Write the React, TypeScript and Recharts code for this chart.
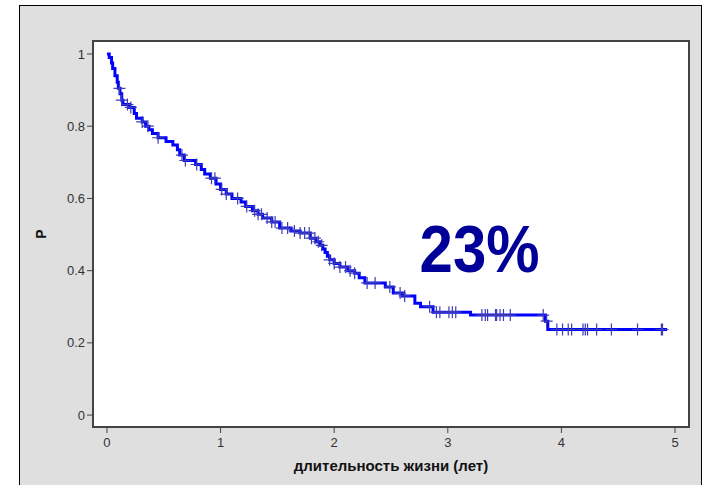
import React from 'react';
import {
  ComposedChart,
  Line,
  Scatter,
  XAxis,
  YAxis,
  CartesianGrid,
  ReferenceArea,
  ReferenceDot,
} from 'recharts';

// Kaplan-Meier step curve: event time (years) and survival after the event
const EVENT_TIMES = [
  0, 0.02, 0.04, 0.05, 0.07, 0.09, 0.1, 0.115, 0.13, 0.14, 0.2, 0.24, 0.26, 0.31, 0.34, 0.37,
  0.4, 0.45, 0.52, 0.58, 0.62, 0.64, 0.68, 0.78, 0.83, 0.86, 0.91, 0.96, 1.0, 1.05, 1.1, 1.18,
  1.22, 1.28, 1.33, 1.37, 1.45, 1.52, 1.62, 1.7, 1.79, 1.84, 1.875, 1.9, 1.92, 1.94, 1.96, 2.0,
  2.05, 2.12, 2.18, 2.22, 2.27, 2.45, 2.52, 2.6, 2.71, 2.76, 2.87, 3.2, 3.86, 3.88, 4.93,
];
const SURVIVAL = [
  1.0, 0.99, 0.975, 0.96, 0.94, 0.922, 0.905, 0.89, 0.872, 0.86, 0.852, 0.835, 0.822, 0.812, 0.8, 0.79,
  0.78, 0.768, 0.758, 0.748, 0.735, 0.72, 0.705, 0.694, 0.68, 0.668, 0.656, 0.64, 0.625, 0.612, 0.6, 0.59,
  0.578, 0.566, 0.556, 0.546, 0.535, 0.518, 0.51, 0.504, 0.49, 0.48, 0.47, 0.46, 0.45, 0.44, 0.43, 0.42,
  0.41, 0.4, 0.393, 0.38, 0.366, 0.355, 0.338, 0.33, 0.31, 0.3, 0.285, 0.277, 0.26, 0.237, 0.237,
];

// censored observations (years)
const CENSOR_TIMES = [
  0.11, 0.13, 0.18, 0.21, 0.31, 0.36, 0.45, 0.66, 0.69, 0.79, 0.92, 0.95, 1.01, 1.05, 1.15, 1.23,
  1.3, 1.33, 1.36, 1.41, 1.45, 1.48, 1.54, 1.59, 1.65, 1.7, 1.74, 1.78, 1.8, 1.83, 1.86, 1.89, 1.96,
  2.0, 2.05, 2.1, 2.14, 2.18, 2.29, 2.36, 2.49, 2.58, 2.62, 2.84, 2.9, 2.93, 3.01, 3.04, 3.07, 3.3,
  3.33, 3.35, 3.42, 3.43, 3.46, 3.49, 3.55, 3.84, 3.87, 3.96, 4.01, 4.06, 4.09, 4.19, 4.21, 4.23,
  4.31, 4.44, 4.67, 4.88, 4.89,
];

const X_TICKS = [0, 1, 2, 3, 4, 5];
const Y_TICKS = [0, 0.2, 0.4, 0.6, 0.8, 1];
const X_DOMAIN = [-0.123, 5.123];
const Y_DOMAIN = [-0.033, 1.036];

const ANNOTATION = { x: 3.28, y: 0.396, text: '23%' };

const curveData = EVENT_TIMES.map((x, i) => ({ x, y: SURVIVAL[i] }));

// censor marks sit on the curve at their time
function survivalAt(t: number) {
  let s = SURVIVAL[0];
  for (let i = 0; i < EVENT_TIMES.length; i++) {
    if (EVENT_TIMES[i] <= t) s = SURVIVAL[i];
  }
  return s;
}
const censorData = CENSOR_TIMES.map((x) => ({ x, y: survivalAt(x) }));

const FONT = '"Liberation Sans", Arial, sans-serif';
const tickStyle = { fontSize: 13, fill: '#333', fontFamily: FONT };

function PlusMark(props: any) {
  const { cx, cy } = props;
  if (cx == null || cy == null) return null;
  return (
    <path
      d={`M${cx - 6},${cy}H${cx + 6}M${cx},${cy - 6}V${cy + 6}`}
      stroke="#3c3cb4"
      strokeWidth={1.2}
      fill="none"
    />
  );
}

function XLabel(props: any) {
  const { viewBox } = props;
  return (
    <text
      x={viewBox.x + viewBox.width / 2}
      y={viewBox.y + 44}
      textAnchor="middle"
      fontFamily={FONT}
      fontWeight="bold"
      fontSize={15}
      fill="#111"
    >
      длительность жизни (лет)
    </text>
  );
}

function YLabel(props: any) {
  const { viewBox } = props;
  const x = viewBox.x + 46;
  const y = viewBox.y + viewBox.height / 2;
  return (
    <text
      x={x}
      y={y}
      transform={`rotate(-90 ${x} ${y})`}
      textAnchor="middle"
      fontFamily={FONT}
      fontWeight="bold"
      fontSize={14}
      fill="#111"
    >
      P
    </text>
  );
}

export default function App() {
  return (
    <div style={{ position: 'absolute', left: 0, top: 0, width: 704, height: 485, overflow: 'hidden' }}>
      <div
        style={{
          position: 'absolute',
          left: 19,
          top: 5,
          width: 681,
          height: 482,
          background: '#dfdfdf',
          border: '1px solid #000',
          borderBottom: 'none',
        }}
      />
      <div style={{ position: 'absolute', left: 0, top: 0 }}>
        <ComposedChart width={704} height={485} margin={{ top: 41, right: 15, bottom: 0, left: 0 }}>
          <CartesianGrid fill="#ffffff" horizontal={false} vertical={false} />
          <XAxis
            type="number"
            dataKey="x"
            domain={X_DOMAIN}
            ticks={X_TICKS}
            allowDataOverflow
            height={58}
            axisLine={false}
            tickSize={6}
            tickLine={{ stroke: '#444' }}
            tick={{ ...tickStyle, dy: 3 }}
            label={<XLabel />}
          />
          <YAxis
            type="number"
            dataKey="y"
            domain={Y_DOMAIN}
            ticks={Y_TICKS}
            allowDataOverflow
            width={93}
            axisLine={false}
            tickSize={6}
            tickLine={{ stroke: '#444' }}
            tick={tickStyle}
            tickFormatter={(v) => String(Number(v.toFixed(1)))}
            label={<YLabel />}
          />
          <ReferenceArea
            x1={X_DOMAIN[0]}
            x2={X_DOMAIN[1]}
            y1={Y_DOMAIN[0]}
            y2={Y_DOMAIN[1]}
            fill="none"
            stroke="#444"
            strokeWidth={2}
            ifOverflow="visible"
          />
          <Line
            data={curveData}
            dataKey="y"
            type="stepAfter"
            stroke="#0000ff"
            strokeWidth={3}
            dot={false}
            activeDot={false}
            isAnimationActive={false}
          />
          <Scatter data={censorData} dataKey="y" shape={<PlusMark />} isAnimationActive={false} />
          <ReferenceDot
            x={ANNOTATION.x}
            y={ANNOTATION.y}
            ifOverflow="visible"
            shape={(p: any) => (
              <text
                x={p.cx}
                y={p.cy}
                textAnchor="middle"
                fontFamily={FONT}
                fontWeight="bold"
                fontSize={66}
                fill="#000099"
                textLength={120}
                lengthAdjust="spacingAndGlyphs"
              >
                {ANNOTATION.text}
              </text>
            )}
          />
        </ComposedChart>
      </div>
    </div>
  );
}
